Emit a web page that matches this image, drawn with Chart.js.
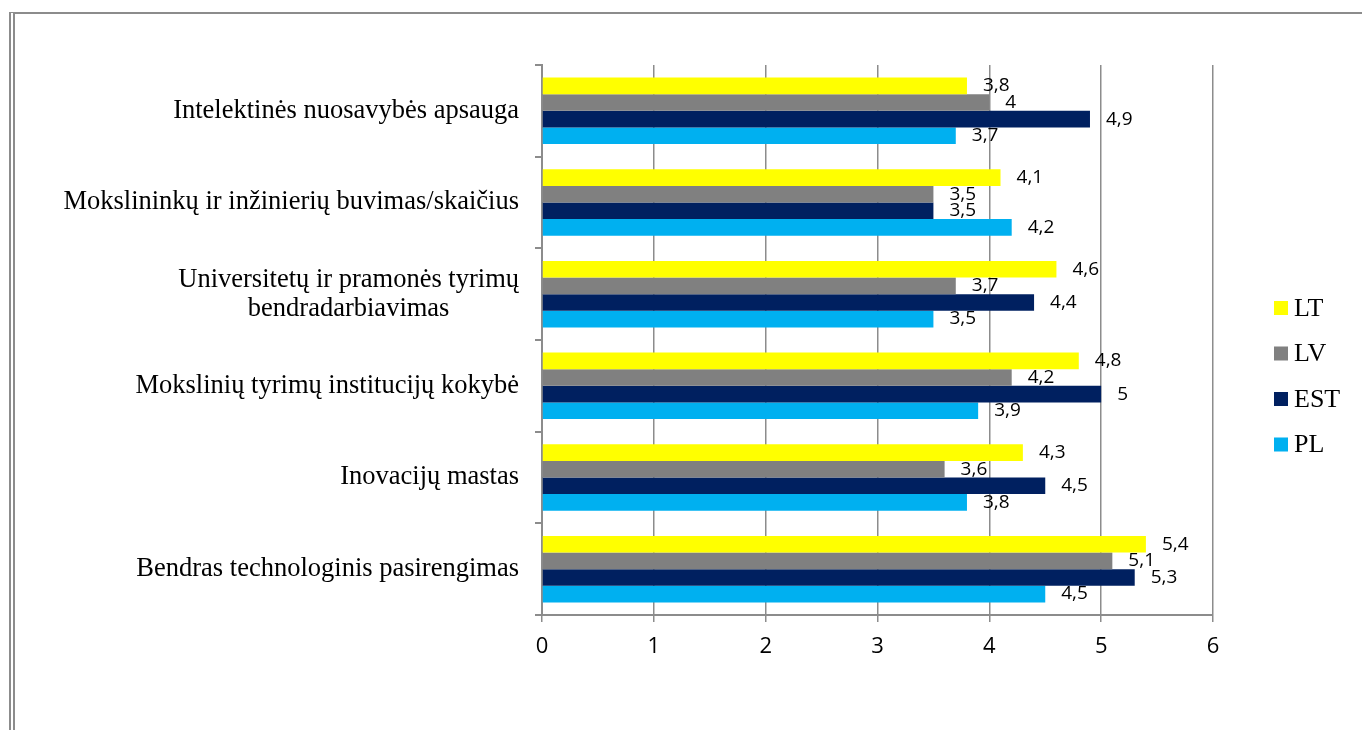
<!DOCTYPE html>
<html lang="lt">
<head>
<meta charset="utf-8">
<title>Inovacijų rodikliai</title>
<script src="https://cdn.jsdelivr.net/npm/chart.js@4.4.1/dist/chart.umd.min.js"></script>
<style>
    html, body { margin: 0; padding: 0; background: #fff; }
    #wrap { position: relative; width: 1362px; height: 730px; }
    #remelis {
        position: absolute; left: 9px; top: 12px; right: 0; bottom: -10px;
        border-top: 2px solid #8c8c8c;
        border-left: 6px double #8c8c8c;
        pointer-events: none;
    }
</style>
</head>
<body>
<div id="wrap">
    <canvas id="grafikas" width="1362" height="730"></canvas>
    <div id="remelis"></div>
</div>
<script>
// kategorijos (iš viršaus į apačią)
const kategorijos = [
    'Intelektinės nuosavybės apsauga',
    'Mokslininkų ir inžinierių buvimas/skaičius',
    ['Universitetų ir pramonės tyrimų', 'bendradarbiavimas'],
    'Mokslinių tyrimų institucijų kokybė',
    'Inovacijų mastas',
    'Bendras technologinis pasirengimas'
];

const reiksmesLT = [3.8, 4.1, 4.6, 4.8, 4.3, 5.4];
const reiksmesLV = [4, 3.5, 3.7, 4.2, 3.6, 5.1];
const reiksmesEST = [4.9, 3.5, 4.4, 5, 4.5, 5.3];
const reiksmesPL = [3.7, 4.2, 3.5, 3.9, 3.8, 4.5];

const asiesZymes = ['0', '1', '2', '3', '4', '5', '6'];

const spalvos = {
    LT: '#ffff00',
    LV: '#808080',
    EST: '#002060',
    PL: '#00b0f0'
};

const pilka = '#8c8c8c';
const serifas = "'Liberation Serif', 'Times New Roman', serif";
const sans = "'Open Sans', 'Noto Sans', sans-serif";

function formatas(v) {
    return String(v).replace('.', ',');
}

// kategorijų pavadinimai kairėje, kelių eilučių centruojami
const kategorijuPavadinimai = {
    id: 'kategorijuPavadinimai',
    afterDraw(chart, args, opts) {
        const ctx = chart.ctx;
        const y = chart.scales.y;
        ctx.save();
        ctx.font = `${opts.dydis}px ${serifas}`;
        ctx.fillStyle = '#000';
        ctx.textAlign = 'center';
        ctx.textBaseline = 'middle';
        chart.data.labels.forEach((lab, i) => {
            const eilutes = Array.isArray(lab) ? lab : [lab];
            const plotis = Math.max(...eilutes.map(t => ctx.measureText(t).width));
            const cx = opts.desinys - plotis / 2;
            const cy = y.getPixelForValue(i);
            const y0 = cy - (eilutes.length - 1) * opts.tarpas / 2;
            eilutes.forEach((t, k) => ctx.fillText(t, cx, y0 + k * opts.tarpas));
        });
        ctx.restore();
    }
};

// reikšmės prie stulpelių galų
const reiksmiuZymos = {
    id: 'reiksmiuZymos',
    afterDatasetsDraw(chart, args, opts) {
        const ctx = chart.ctx;
        ctx.save();
        ctx.font = `${opts.dydis}px ${sans}`;
        ctx.fillStyle = '#000';
        ctx.textAlign = 'left';
        ctx.textBaseline = 'middle';
        chart.data.datasets.forEach((ds, di) => {
            const meta = chart.getDatasetMeta(di);
            meta.data.forEach((el, i) => {
                ctx.fillText(formatas(ds.data[i]), el.x + opts.atstumas, el.y + opts.poslinkis);
            });
        });
        ctx.restore();
    }
};

// legenda dešinėje
const legenda = {
    id: 'legenda',
    afterDraw(chart, args, opts) {
        const ctx = chart.ctx;
        ctx.save();
        ctx.font = `${opts.dydis}px ${serifas}`;
        ctx.textAlign = 'left';
        ctx.textBaseline = 'middle';
        chart.data.datasets.forEach((ds, di) => {
            const cy = opts.y + di * opts.tarpas;
            ctx.fillStyle = ds.backgroundColor;
            ctx.fillRect(opts.x, cy - opts.kvadratas / 2, opts.kvadratas, opts.kvadratas);
            ctx.fillStyle = '#000';
            ctx.fillText(ds.label, opts.x + opts.kvadratas + 6, cy + 1);
        });
        ctx.restore();
    }
};

const ctx = document.getElementById('grafikas').getContext('2d');

new Chart(ctx, {
    type: 'bar',
    data: {
        labels: kategorijos,
        datasets: [
            { label: 'LT', data: reiksmesLT, backgroundColor: spalvos.LT },
            { label: 'LV', data: reiksmesLV, backgroundColor: spalvos.LV },
            { label: 'EST', data: reiksmesEST, backgroundColor: spalvos.EST },
            { label: 'PL', data: reiksmesPL, backgroundColor: spalvos.PL }
        ]
    },
    options: {
        indexAxis: 'y',
        responsive: false,
        animation: false,
        layout: { padding: { left: 0, right: 149, top: 65, bottom: 0 } },
        datasets: {
            bar: { categoryPercentage: 0.725, barPercentage: 1, borderWidth: 0 }
        },
        plugins: {
            legend: { display: false },
            tooltip: { enabled: false },
            kategorijuPavadinimai: { dydis: 26.5, desinys: 519, tarpas: 29 },
            reiksmiuZymos: { dydis: 19, atstumas: 16, poslinkis: 0 },
            legenda: { x: 1274, y: 308, tarpas: 45.5, kvadratas: 14, dydis: 26 }
        },
        scales: {
            x: {
                min: 0,
                max: 6,
                afterFit: (s) => { s.height = 115; },
                ticks: {
                    stepSize: 1,
                    padding: 12,
                    color: '#000',
                    font: { family: sans, size: 22 },
                    callback: (v, i) => asiesZymes[i]
                },
                grid: { color: pilka, lineWidth: 1.5, tickLength: 7 },
                border: { color: pilka, width: 2 }
            },
            y: {
                afterFit: (s) => { s.width = 542; },
                ticks: { display: false },
                grid: { drawOnChartArea: false, offset: true, color: pilka, lineWidth: 2, tickLength: 7 },
                border: { color: pilka, width: 2 }
            }
        }
    },
    plugins: [kategorijuPavadinimai, reiksmiuZymos, legenda]
});
</script>
</body>
</html>
